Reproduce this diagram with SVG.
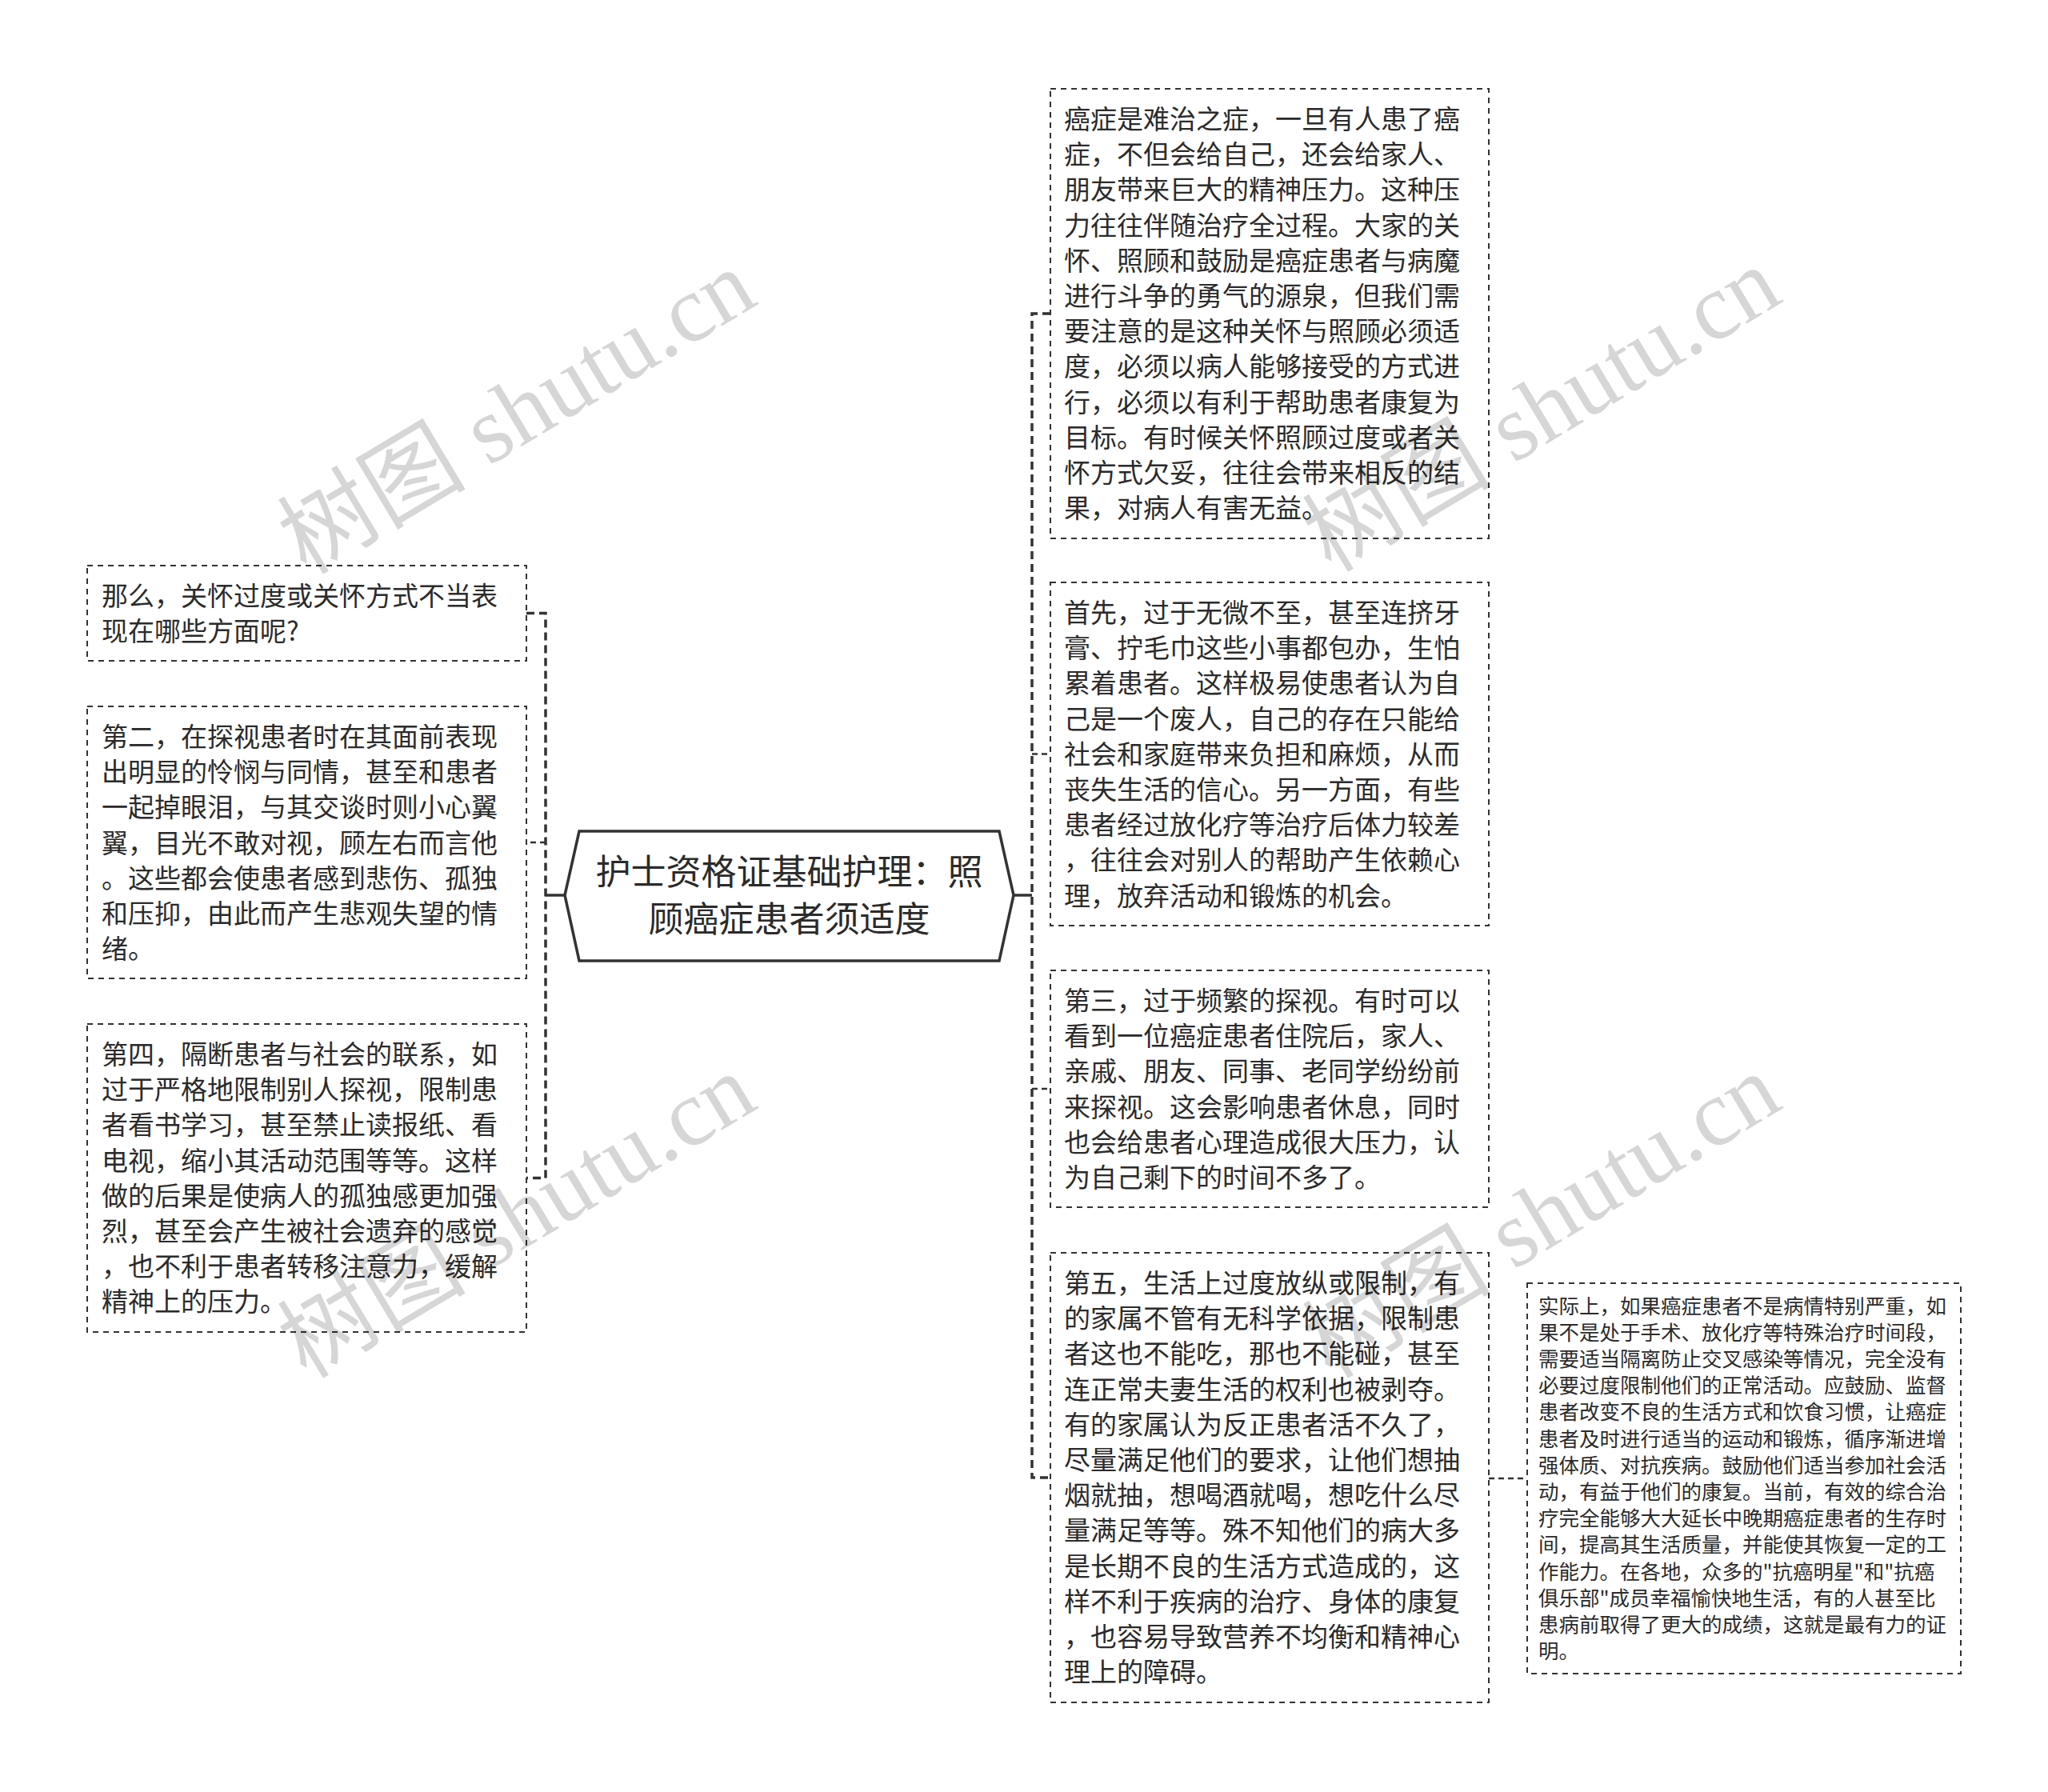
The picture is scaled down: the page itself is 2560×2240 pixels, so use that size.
<svg xmlns="http://www.w3.org/2000/svg" width="2560" height="2240" viewBox="0 0 2560 2240">
<style>
.box{fill:#fff;stroke:#333;stroke-width:2;stroke-dasharray:7 6}
.t{font-family:"Noto Sans CJK SC","Noto Sans",sans-serif;font-size:33px;fill:#2b2b2b}
.ts{font-family:"Noto Sans CJK SC","Noto Sans",sans-serif;font-size:25.5px;fill:#2b2b2b}
.tc{font-family:"Noto Sans CJK SC","Noto Sans",sans-serif;font-size:44px;fill:#2b2b2b;text-anchor:middle}
.spine{fill:none;stroke:#333;stroke-width:3.5;stroke-dasharray:10 6}
.stub{fill:none;stroke:#333;stroke-width:2.5;stroke-dasharray:7 5}
.solid{fill:none;stroke:#333;stroke-width:3.5}
.wm{font-family:"Liberation Serif","Noto Sans CJK SC",serif;font-size:118px;fill:#000;fill-opacity:0.16;text-anchor:middle}
</style>
<rect x="0" y="0" width="2560" height="2240" fill="#fff"/>
<g id="connectors">
<path class="solid" d="M706 1119 H682"/>
<path class="spine" d="M658 766.5 H682 V1472.5 H658"/>
<path class="stub" d="M682 1053 H658"/>
<path class="solid" d="M1267 1119 H1290"/>
<path class="spine" d="M1313 392 H1290 V1847 H1313"/>
<path class="stub" d="M1290 942.5 H1313"/>
<path class="stub" d="M1290 1361 H1313"/>
<path class="stub" d="M1861 1848 H1909"/>
</g>
<g id="center">
<polygon points="706,1119 724,1039 1249,1039 1267,1119 1249,1201 724,1201" fill="#fff" stroke="#333" stroke-width="3.5"/>
<text class="tc"><tspan x="986.5" y="1106">护士资格证基础护理：照</tspan><tspan x="986.5" y="1165">顾癌症患者须适度</tspan></text>
</g>
<g id="r1">
<rect class="box" x="1313" y="111" width="548" height="562"/>
<text class="t"><tspan x="1330" y="161">癌症是难治之症，一旦有人患了癌</tspan><tspan x="1330" dy="44.2">症，不但会给自己，还会给家人、</tspan><tspan x="1330" dy="44.2">朋友带来巨大的精神压力。这种压</tspan><tspan x="1330" dy="44.2">力往往伴随治疗全过程。大家的关</tspan><tspan x="1330" dy="44.2">怀、照顾和鼓励是癌症患者与病魔</tspan><tspan x="1330" dy="44.2">进行斗争的勇气的源泉，但我们需</tspan><tspan x="1330" dy="44.2">要注意的是这种关怀与照顾必须适</tspan><tspan x="1330" dy="44.2">度，必须以病人能够接受的方式进</tspan><tspan x="1330" dy="44.2">行，必须以有利于帮助患者康复为</tspan><tspan x="1330" dy="44.2">目标。有时候关怀照顾过度或者关</tspan><tspan x="1330" dy="44.2">怀方式欠妥，往往会带来相反的结</tspan><tspan x="1330" dy="44.2">果，对病人有害无益。</tspan></text>
</g>
<g id="r2">
<rect class="box" x="1313" y="728" width="548" height="429"/>
<text class="t"><tspan x="1330" y="778">首先，过于无微不至，甚至连挤牙</tspan><tspan x="1330" dy="44.2">膏、拧毛巾这些小事都包办，生怕</tspan><tspan x="1330" dy="44.2">累着患者。这样极易使患者认为自</tspan><tspan x="1330" dy="44.2">己是一个废人，自己的存在只能给</tspan><tspan x="1330" dy="44.2">社会和家庭带来负担和麻烦，从而</tspan><tspan x="1330" dy="44.2">丧失生活的信心。另一方面，有些</tspan><tspan x="1330" dy="44.2">患者经过放化疗等治疗后体力较差</tspan><tspan x="1330" dy="44.2">，往往会对别人的帮助产生依赖心</tspan><tspan x="1330" dy="44.2">理，放弃活动和锻炼的机会。</tspan></text>
</g>
<g id="r3">
<rect class="box" x="1313" y="1213" width="548" height="296"/>
<text class="t"><tspan x="1330" y="1263">第三，过于频繁的探视。有时可以</tspan><tspan x="1330" dy="44.2">看到一位癌症患者住院后，家人、</tspan><tspan x="1330" dy="44.2">亲戚、朋友、同事、老同学纷纷前</tspan><tspan x="1330" dy="44.2">来探视。这会影响患者休息，同时</tspan><tspan x="1330" dy="44.2">也会给患者心理造成很大压力，认</tspan><tspan x="1330" dy="44.2">为自己剩下的时间不多了。</tspan></text>
</g>
<g id="r4">
<rect class="box" x="1313" y="1566" width="548" height="562"/>
<text class="t"><tspan x="1330" y="1616">第五，生活上过度放纵或限制，有</tspan><tspan x="1330" dy="44.2">的家属不管有无科学依据，限制患</tspan><tspan x="1330" dy="44.2">者这也不能吃，那也不能碰，甚至</tspan><tspan x="1330" dy="44.2">连正常夫妻生活的权利也被剥夺。</tspan><tspan x="1330" dy="44.2">有的家属认为反正患者活不久了，</tspan><tspan x="1330" dy="44.2">尽量满足他们的要求，让他们想抽</tspan><tspan x="1330" dy="44.2">烟就抽，想喝酒就喝，想吃什么尽</tspan><tspan x="1330" dy="44.2">量满足等等。殊不知他们的病大多</tspan><tspan x="1330" dy="44.2">是长期不良的生活方式造成的，这</tspan><tspan x="1330" dy="44.2">样不利于疾病的治疗、身体的康复</tspan><tspan x="1330" dy="44.2">，也容易导致营养不均衡和精神心</tspan><tspan x="1330" dy="44.2">理上的障碍。</tspan></text>
</g>
<g id="r5">
<rect class="box" x="1909" y="1604" width="542" height="488"/>
<text class="ts"><tspan x="1923" y="1641.5">实际上，如果癌症患者不是病情特别严重，如</tspan><tspan x="1923" dy="33.2">果不是处于手术、放化疗等特殊治疗时间段，</tspan><tspan x="1923" dy="33.2">需要适当隔离防止交叉感染等情况，完全没有</tspan><tspan x="1923" dy="33.2">必要过度限制他们的正常活动。应鼓励、监督</tspan><tspan x="1923" dy="33.2">患者改变不良的生活方式和饮食习惯，让癌症</tspan><tspan x="1923" dy="33.2">患者及时进行适当的运动和锻炼，循序渐进增</tspan><tspan x="1923" dy="33.2">强体质、对抗疾病。鼓励他们适当参加社会活</tspan><tspan x="1923" dy="33.2">动，有益于他们的康复。当前，有效的综合治</tspan><tspan x="1923" dy="33.2">疗完全能够大大延长中晚期癌症患者的生存时</tspan><tspan x="1923" dy="33.2">间，提高其生活质量，并能使其恢复一定的工</tspan><tspan x="1923" dy="33.2">作能力。在各地，众多的"抗癌明星"和"抗癌</tspan><tspan x="1923" dy="33.2">俱乐部"成员幸福愉快地生活，有的人甚至比</tspan><tspan x="1923" dy="33.2">患病前取得了更大的成绩，这就是最有力的证</tspan><tspan x="1923" dy="33.2">明。</tspan></text>
</g>
<g id="l1">
<rect class="box" x="109" y="707" width="549" height="119"/>
<text class="t"><tspan x="127" y="757">那么，关怀过度或关怀方式不当表</tspan><tspan x="127" dy="44.2">现在哪些方面呢?</tspan></text>
</g>
<g id="l2">
<rect class="box" x="109" y="883" width="549" height="340"/>
<text class="t"><tspan x="127" y="933">第二，在探视患者时在其面前表现</tspan><tspan x="127" dy="44.2">出明显的怜悯与同情，甚至和患者</tspan><tspan x="127" dy="44.2">一起掉眼泪，与其交谈时则小心翼</tspan><tspan x="127" dy="44.2">翼，目光不敢对视，顾左右而言他</tspan><tspan x="127" dy="44.2">。这些都会使患者感到悲伤、孤独</tspan><tspan x="127" dy="44.2">和压抑，由此而产生悲观失望的情</tspan><tspan x="127" dy="44.2">绪。</tspan></text>
</g>
<g id="l3">
<rect class="box" x="109" y="1280" width="549" height="385"/>
<text class="t"><tspan x="127" y="1330">第四，隔断患者与社会的联系，如</tspan><tspan x="127" dy="44.2">过于严格地限制别人探视，限制患</tspan><tspan x="127" dy="44.2">者看书学习，甚至禁止读报纸、看</tspan><tspan x="127" dy="44.2">电视，缩小其活动范围等等。这样</tspan><tspan x="127" dy="44.2">做的后果是使病人的孤独感更加强</tspan><tspan x="127" dy="44.2">烈，甚至会产生被社会遗弃的感觉</tspan><tspan x="127" dy="44.2">，也不利于患者转移注意力，缓解</tspan><tspan x="127" dy="44.2">精神上的压力。</tspan></text>
</g>
<g id="watermarks">
<text class="wm" transform="translate(646 515) rotate(-31)" y="40">树图 shutu.cn</text>
<text class="wm" transform="translate(1927 512) rotate(-31)" y="40">树图 shutu.cn</text>
<text class="wm" transform="translate(646 1520) rotate(-31)" y="40">树图 shutu.cn</text>
<text class="wm" transform="translate(1927 1520) rotate(-31)" y="40">树图 shutu.cn</text>
</g>
</svg>
